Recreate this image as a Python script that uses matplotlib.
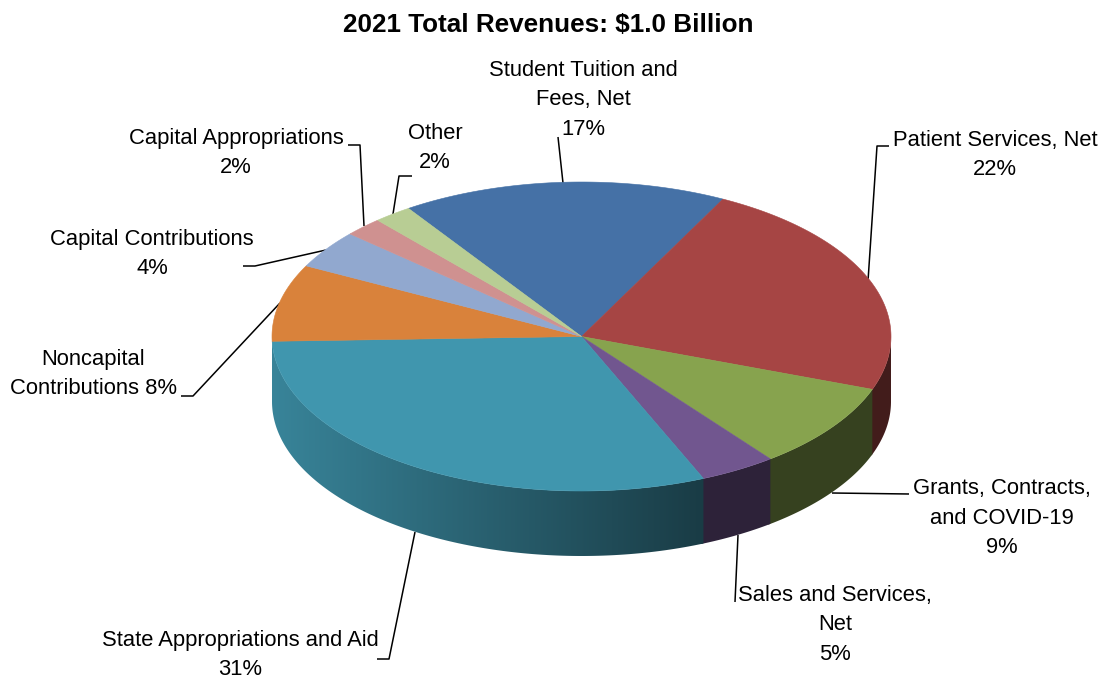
# 2021 revenue pie, drawn in pixel coordinates so the fake 3D is easy to line up

import numpy as np
import matplotlib.pyplot as plt
from matplotlib.colors import to_rgb
from matplotlib.patches import Polygon

plt.rcParams['font.family'] = ['Liberation Sans', 'DejaVu Sans']

title = '2021 Total Revenues: $1.0 Billion'

# slice shares as measured off the pie, clockwise from the Student Tuition slice
categories = ['Student Tuition', 'Patient Services', 'Grants', 'Sales', 'State',
              'Noncapital', 'Capital Contributions', 'Capital Appropriations', 'Other']
shares = [17.0, 23.0, 9.0, 4.0, 30.95, 8.05, 4.0, 2.0, 2.0]
colors = ['#4571a6', '#a64544', '#87a34e', '#71568f', '#4096ae',
          '#d9823b', '#91a8cf', '#cf9190', '#b8cd94']

labels = ['Student Tuition and\nFees, Net\n17%', 'Patient Services, Net\n22%',
          'Grants, Contracts,\nand COVID-19\n9%', 'Sales and Services,\nNet\n5%',
          'State Appropriations and Aid\n31%', 'Noncapital\nContributions 8%',
          'Capital Contributions\n4%', 'Capital Appropriations\n2%', 'Other\n2%']
label_pos = [(583, 100), (995, 155), (1002, 518), (835, 625),
             (240, 655), (93, 374), (152, 254), (236, 153), (435, 148)]

leaders = [[(563, 183), (558, 137)],
           [(868, 281), (877, 146), (889, 146)],
           [(832, 493), (909, 494)],
           [(738, 535), (735, 602)],
           [(415, 532), (389, 659), (377, 659)],
           [(280, 303), (193, 396), (181, 396)],
           [(326, 250), (255, 266), (243, 266)],
           [(364, 226), (360, 145), (348, 145)],
           [(393, 214), (399, 176), (412, 176)]]

cx, cy = 581.5, 336.5
rx, ry = 309.5, 154.5
depth = 65
start_angle = 124.0


def edge(a):
    a = np.radians(a)
    return cx + rx * np.cos(a), cy - ry * np.sin(a)


# darkening of the wall from left to right, then flat dark after the state slice
def wall_factor(x):
    return np.clip(0.88 - 0.48 * (x - 272) / 430, 0.4, 0.88)


fig = plt.figure(figsize=(11.02, 6.82), dpi=100)
ax = fig.add_axes([0, 0, 1, 1])

bounds = start_angle - np.cumsum([0] + shares) * 3.6

# side wall: a horizontal gradient image clipped to each slice's wall
for i in range(len(shares)):
    a0, a1 = bounds[i], bounds[i + 1]
    if categories[i] == 'State':
        a1 = -180
    a0, a1 = min(a0, 0), max(a1, -180)
    if a0 <= a1:
        continue
    x, y = edge(np.linspace(a0, a1, 120))
    wall = list(zip(x, y)) + list(zip(x[::-1], y[::-1] + depth))
    rgb = np.array(to_rgb(colors[i]))
    if categories[i] != 'State':
        # flat slices are plain polygons, a bit wider so no white seam shows
        x2, y2 = edge(np.linspace(a0, max(a1 - 0.5, -180), 120))
        flat = list(zip(x2, y2)) + list(zip(x2[::-1], y2[::-1] + depth))
        ax.add_patch(Polygon(flat, closed=True, fc=rgb * 0.4, ec='none', zorder=2))
        continue
    x0, x1 = x.min(), x.max()
    grad = wall_factor(np.linspace(x0, x1, 256))[None, :, None] * rgb[None, None, :]
    im = ax.imshow(grad, extent=(x0, x1, y.max() + depth, y.min()), aspect='auto',
                   interpolation='bilinear', zorder=2.5)
    im.set_clip_path(Polygon(wall, closed=True, transform=ax.transData))

# top of the pie
for i in range(len(shares)):
    x, y = edge(np.linspace(bounds[i], bounds[i + 1], 120))
    pts = [(cx, cy)] + list(zip(x, y))
    ax.add_patch(Polygon(pts, closed=True, fc=colors[i], ec=colors[i], lw=0.4, zorder=3))

for line in leaders:
    xs, ys = zip(*line)
    ax.plot(xs, ys, color='black', lw=1.1, zorder=1, solid_capstyle='butt')

for text, pos in zip(labels, label_pos):
    ax.text(pos[0], pos[1], text, ha='center', va='center', multialignment='center',
            fontsize=15.8, linespacing=1.54, color='black', zorder=5)

ax.text(548, 25, title, ha='center', va='center', fontsize=18.8, fontweight='bold')

ax.set_xlim(0, 1102)
ax.set_ylim(682, 0)
ax.axis('off')

fig.savefig('out.png', dpi=100)
